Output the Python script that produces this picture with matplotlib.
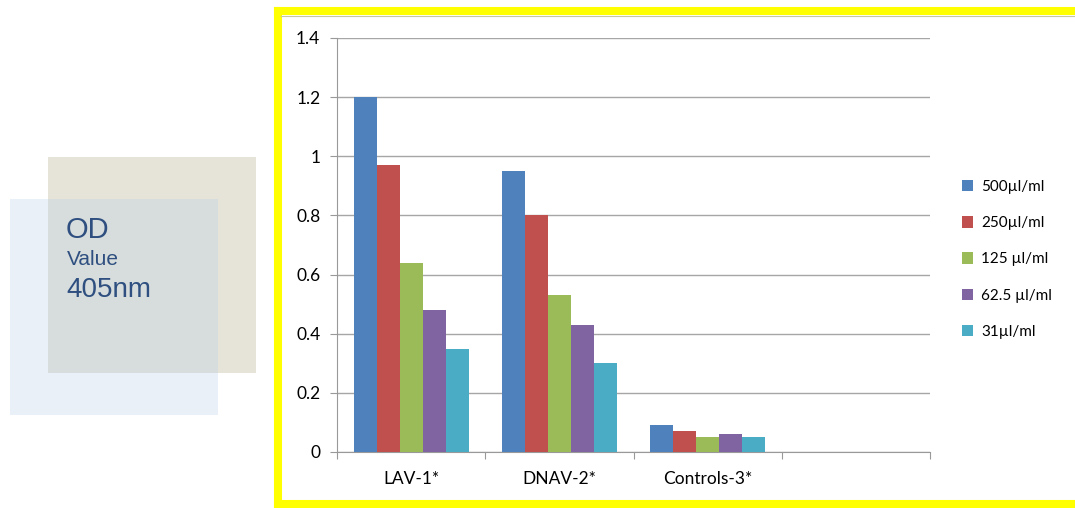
import numpy as np
import matplotlib.pyplot as plt
import matplotlib.patches as mpatches

# data
categories = ["LAV-1*", "DNAV-2*", "Controls-3*", ""]
series_names = ["500µl/ml", "250µl/ml", "125 µl/ml", "62.5 µl/ml", "31µl/ml"]
v500 = [1.20, 0.95, 0.09]
v250 = [0.97, 0.80, 0.07]
v125 = [0.64, 0.53, 0.05]
v62 = [0.48, 0.43, 0.06]
v31 = [0.35, 0.30, 0.05]
yticks = [0, 0.2, 0.4, 0.6, 0.8, 1, 1.2, 1.4]
ytick_labels = ["0", "0.2", "0.4", "0.6", "0.8", "1", "1.2", "1.4"]

colors = ["#4f81bd", "#c0504d", "#9bbb59", "#8064a2", "#4bacc6"]
series = [v500, v250, v125, v62, v31]

W, H = 1075, 508
fig = plt.figure(figsize=(W / 100, H / 100), dpi=100)

# background layer in pixel coords for frame and left boxes
bg = fig.add_axes([0, 0, 1, 1])
bg.set_xlim(0, W)
bg.set_ylim(H, 0)
bg.axis("off")

# yellow frame, open to the right edge
yel = dict(color="#ffff00", lw=5.8, solid_capstyle="projecting")
bg.plot([277.5, W + 10], [11, 11], **yel)
bg.plot([277.5, 277.5], [11, 504], **yel)
bg.plot([277.5, W + 10], [504, 504], **yel)
bg.plot([281, W], [15.5, 15.5], color="#c8c8a0", lw=0.8)

# overlapping boxes on the left
bg.add_patch(mpatches.Rectangle((48, 157), 208, 216, facecolor="#e6e4d9",
                                edgecolor="none"))
bg.add_patch(mpatches.Rectangle((10, 199), 208, 216, facecolor="#b2c8e6",
                                edgecolor="none", alpha=0.27))
txt_kw = dict(color="#2e4f80", family="Liberation Sans", va="baseline", ha="left")
bg.text(66, 238, "OD", fontsize=21, **txt_kw)
bg.text(67, 265, "Value", fontsize=15, **txt_kw)
bg.text(66, 297, "405nm", fontsize=20, **txt_kw)

# bar chart
ax = fig.add_axes([337 / W, 1 - 452 / H, (930 - 337) / W, (452 - 38) / H])
ax.patch.set_alpha(0)
n = len(series)
group = 0.777
bw = group / n
x = np.arange(len(v500)) + 0.5
for i, (vals, c, name) in enumerate(zip(series, colors, series_names)):
    ax.bar(x - group / 2 + bw * (i + 0.5), vals, width=bw, color=c,
           label=name, zorder=3)

ax.set_xlim(0, len(categories))
ax.set_ylim(0, 1.4)
ax.set_yticks(yticks)
ax.set_yticklabels(ytick_labels, fontsize=12.5, family="Lato")
ax.set_xticks(np.arange(len(categories) + 1))
ax.set_xticklabels([])
ax.set_xticks(np.arange(len(categories)) + 0.5, minor=True)
ax.set_xticklabels(categories, minor=True, fontsize=12.5, family="Lato")
ax.tick_params(axis="x", which="minor", length=0, pad=14)
ax.tick_params(axis="x", which="major", length=5, color="#999999")
ax.tick_params(axis="y", length=5, color="#999999", pad=7)
ax.grid(axis="y", color="#a6a6a6", lw=1, zorder=0)
for s in ["top", "right"]:
    ax.spines[s].set_visible(False)
for s in ["left", "bottom"]:
    ax.spines[s].set_color("#999999")

leg = ax.legend(loc="upper left", bbox_to_anchor=(1.03, 0.69), frameon=False,
                prop={"family": "Lato", "size": 11}, handlelength=0.75,
                handleheight=0.75, handletextpad=0.55, labelspacing=1.45)

fig.savefig("out.png", dpi=100)
